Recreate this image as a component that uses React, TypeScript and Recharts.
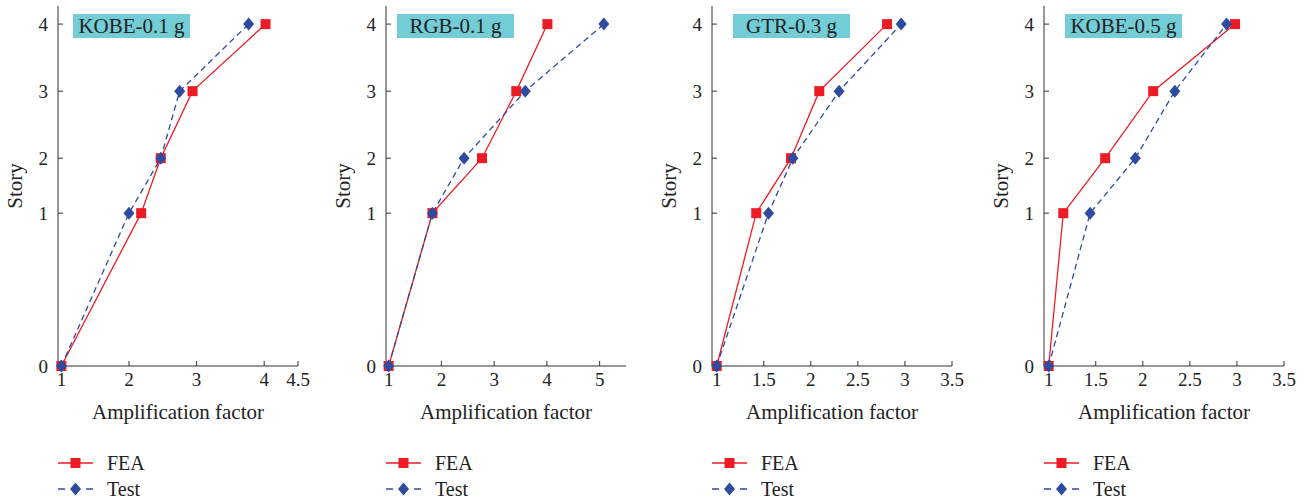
import { LineChart, Line, XAxis, YAxis, Label } from 'recharts';

// story elevations (relative) and their labels
const storyNames = ['0', '1', '2', '3', '4'];
const storyLevels = [0, 2.28, 3.1, 4.1, 5.1];
const levelTop = 5.37;

const seriesNames = ['FEA', 'Test'];
const titles = ['KOBE-0.1 g', 'RGB-0.1 g', 'GTR-0.3 g', 'KOBE-0.5 g'];

// amplification factor at stories 0..4
const kobe01Fea = [1, 2.18, 2.47, 2.94, 4.02];
const kobe01Test = [1, 2.0, 2.47, 2.75, 3.77];
const rgb01Fea = [1, 1.83, 2.77, 3.42, 4.01];
const rgb01Test = [1, 1.83, 2.43, 3.59, 5.08];
const gtr03Fea = [1, 1.42, 1.79, 2.09, 2.81];
const gtr03Test = [1, 1.55, 1.81, 2.3, 2.96];
const kobe05Fea = [1, 1.155, 1.6, 2.11, 2.98];
const kobe05Test = [1, 1.44, 1.92, 2.34, 2.89];

const ticksKobe01 = [1, 2, 3, 4, 4.5];
const ticksRgb01 = [1, 2, 3, 4, 5];
const ticksHalf = [1, 1.5, 2, 2.5, 3, 3.5];
const xMin = 0.95;
const xMaxes = [4.5, 5.5, 3.5, 3.5];

const RED = '#ED1C24';
const BLUE = '#2E4BA0';
const AXIS = '#333333';
const FONT = 'Liberation Serif';

const panels = [
  { title: titles[0], fea: kobe01Fea, test: kobe01Test, ticks: ticksKobe01, xMax: xMaxes[0] },
  { title: titles[1], fea: rgb01Fea, test: rgb01Test, ticks: ticksRgb01, xMax: xMaxes[1] },
  { title: titles[2], fea: gtr03Fea, test: gtr03Test, ticks: ticksHalf, xMax: xMaxes[2] },
  { title: titles[3], fea: kobe05Fea, test: kobe05Test, ticks: ticksHalf, xMax: xMaxes[3] },
];

const plotLefts = [58, 386, 712, 1044];
const titleOffsets = [15, 11, 21, 21];

function Square(props: any) {
  const { cx, cy, index } = props;
  if (cx == null || cy == null) return null;
  return <rect key={`sq${index}`} x={cx - 5} y={cy - 5} width={10} height={10} fill={RED} />;
}

function Diamond(props: any) {
  const { cx, cy, index } = props;
  if (cx == null || cy == null) return null;
  const pts = `${cx},${cy - 6.5} ${cx + 5.5},${cy} ${cx},${cy + 6.5} ${cx - 5.5},${cy}`;
  return <polygon key={`dm${index}`} points={pts} fill={BLUE} />;
}

function Panel({ idx }: { idx: number }) {
  const p = panels[idx];
  const left = plotLefts[idx];
  const feaRows = storyLevels.map((y, i) => ({ x: p.fea[i], y }));
  const testRows = storyLevels.map((y, i) => ({ x: p.test[i], y }));
  const tickStyle = { fill: '#222', fontSize: 19, fontFamily: FONT };

  return (
    <>
      <div style={{ position: 'absolute', left: left - 58, top: 0 }}>
        <LineChart width={320} height={436} margin={{ top: 6, right: 22, left: 28, bottom: 0 }} style={{ fontFamily: FONT }}>
          <XAxis
            xAxisId="b"
            dataKey="x"
            type="number"
            domain={[xMin, p.xMax]}
            ticks={p.ticks}
            interval={0}
            height={70}
            tickSize={-5}
            tickMargin={12}
            stroke={AXIS}
            tick={tickStyle}
          >
            <Label
              content={(lp: any) => {
                const vb = lp.viewBox;
                return (
                  <text x={vb.x + vb.width / 2} y={vb.y + 53} textAnchor="middle" fontSize={21} fontFamily={FONT} fill="#222">
                    Amplification factor
                  </text>
                );
              }}
            />
          </XAxis>
          <XAxis
            xAxisId="t"
            orientation="top"
            dataKey="x"
            type="number"
            domain={[xMin, p.xMax]}
            ticks={p.ticks}
            interval={0}
            height={0}
            tick={false}
            tickSize={-5}
            stroke={AXIS}
          />
          <YAxis
            yAxisId="l"
            type="number"
            domain={[0, levelTop]}
            ticks={storyLevels}
            interval={0}
            tickFormatter={(v: number) => storyNames[storyLevels.indexOf(v)]}
            width={30}
            tickSize={-5}
            tickMargin={15}
            stroke={AXIS}
            tick={tickStyle}
          >
            <Label
              content={(lp: any) => {
                const vb = lp.viewBox;
                const x = vb.x + vb.width - 36;
                const y = vb.y + vb.height / 2;
                return (
                  <text x={x} y={y} transform={`rotate(-90, ${x}, ${y})`} textAnchor="middle" fontSize={21} fontFamily={FONT} fill="#222">
                    Story
                  </text>
                );
              }}
            />
          </YAxis>
          <YAxis
            yAxisId="r"
            orientation="right"
            type="number"
            domain={[0, levelTop]}
            ticks={storyLevels}
            interval={0}
            width={0}
            tick={false}
            tickSize={-5}
            stroke={AXIS}
          />
          <Line
            xAxisId="b"
            yAxisId="l"
            data={feaRows}
            dataKey="y"
            name={seriesNames[0]}
            type="linear"
            stroke={RED}
            strokeWidth={1.3}
            dot={Square}
            activeDot={false}
            isAnimationActive={false}
          />
          <Line
            xAxisId="b"
            yAxisId="l"
            data={testRows}
            dataKey="y"
            name={seriesNames[1]}
            type="linear"
            stroke={BLUE}
            strokeWidth={1.3}
            strokeDasharray="6 4"
            dot={Diamond}
            activeDot={false}
            isAnimationActive={false}
          />
        </LineChart>
      </div>
      <div
        style={{
          position: 'absolute',
          left: left + titleOffsets[idx],
          top: 14,
          width: 117,
          height: 24,
          background: '#72CDD6',
          color: '#222',
          fontFamily: FONT,
          fontSize: 21,
          lineHeight: '24px',
          textAlign: 'center',
        }}
      >
        {p.title}
      </div>
      <svg style={{ position: 'absolute', left, top: 445 }} width={130} height={60}>
        <line x1={0} y1={18} x2={35} y2={18} stroke={RED} strokeWidth={1.3} />
        <rect x={12.5} y={13} width={10} height={10} fill={RED} />
        <text x={49} y={25} fontSize={20} fontFamily={FONT} fill="#222">{seriesNames[0]}</text>
        <line x1={0} y1={44} x2={35} y2={44} stroke={BLUE} strokeWidth={1.3} strokeDasharray="7 7" />
        <polygon points="17.5,37.5 23,44 17.5,50.5 12,44" fill={BLUE} />
        <text x={49} y={51} fontSize={20} fontFamily={FONT} fill="#222">{seriesNames[1]}</text>
      </svg>
    </>
  );
}

export default function App() {
  return (
    <div style={{ position: 'relative', width: 1314, height: 502, background: '#fff', fontFamily: FONT }}>
      <style>{'body{margin:0}'}</style>
      {panels.map((_, i) => (
        <Panel key={i} idx={i} />
      ))}
    </div>
  );
}
